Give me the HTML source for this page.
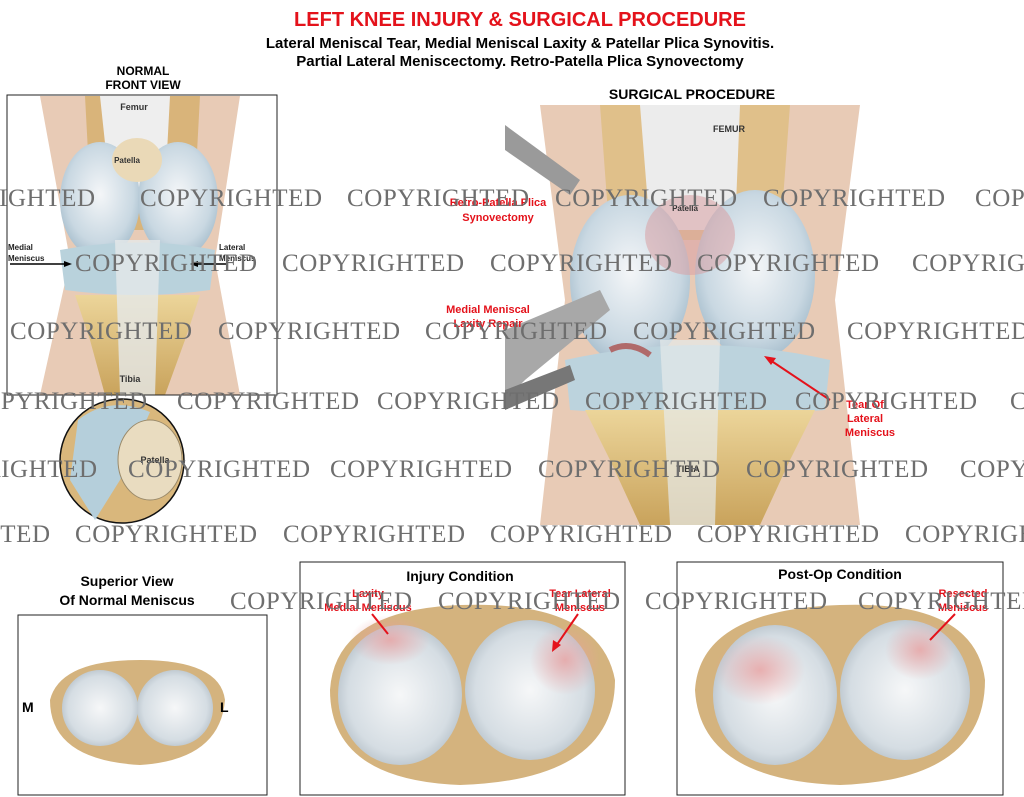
<!DOCTYPE html>
<html><head><meta charset="utf-8"><style>
html,body{margin:0;padding:0;background:#fff;}
svg{display:block}
.t{font-family:"Liberation Sans",Arial,sans-serif;font-weight:bold}
.w{font-family:"Liberation Serif",serif;fill:#6e6e6e;font-size:25px}
</style></head><body>
<svg width="1024" height="797" viewBox="0 0 1024 797" xmlns="http://www.w3.org/2000/svg">
<defs>
<radialGradient id="cart" cx="50%" cy="45%" r="60%"><stop offset="0" stop-color="#f4f6f8"/><stop offset="0.7" stop-color="#c9d8e2"/><stop offset="1" stop-color="#9fb8c8"/></radialGradient>
<linearGradient id="bone" x1="0" y1="0" x2="0" y2="1"><stop offset="0" stop-color="#ecd59a"/><stop offset="1" stop-color="#c9a35c"/></linearGradient>
<radialGradient id="men" cx="50%" cy="50%" r="60%"><stop offset="0" stop-color="#f6f7f8"/><stop offset="0.7" stop-color="#d5dde3"/><stop offset="1" stop-color="#a8b4bd"/></radialGradient>
<radialGradient id="red" cx="50%" cy="50%" r="50%"><stop offset="0" stop-color="#e8a0a0" stop-opacity=".8"/><stop offset="1" stop-color="#e8a0a0" stop-opacity="0"/></radialGradient>
</defs>

<!-- titles -->
<text class="t" x="520" y="26" text-anchor="middle" font-size="20" fill="#e4121b">LEFT KNEE INJURY &amp; SURGICAL PROCEDURE</text>
<text class="t" x="520" y="48" text-anchor="middle" font-size="15">Lateral Meniscal Tear, Medial Meniscal Laxity &amp; Patellar Plica Synovitis.</text>
<text class="t" x="520" y="66" text-anchor="middle" font-size="15">Partial Lateral Meniscectomy.  Retro-Patella Plica Synovectomy</text>
<text class="t" x="143" y="75" text-anchor="middle" font-size="12">NORMAL</text>
<text class="t" x="143" y="89" text-anchor="middle" font-size="12">FRONT VIEW</text>
<text class="t" x="692" y="99" text-anchor="middle" font-size="14">SURGICAL PROCEDURE</text>

<!-- left front view -->
<g>
<path d="M40 96 L240 96 L215 260 L240 395 L40 395 L70 260 Z" fill="#e8cbb6"/>
<path d="M85 96 L200 96 L195 190 L170 230 L110 230 L90 190 Z" fill="#d9b47a"/>
<path d="M100 96 L170 96 L165 190 L110 190 Z" fill="#eeeeee"/>
<ellipse cx="100" cy="200" rx="40" ry="58" fill="url(#cart)"/>
<ellipse cx="178" cy="200" rx="40" ry="58" fill="url(#cart)"/>
<ellipse cx="137" cy="160" rx="25" ry="22" fill="#ead9b7"/>
<path d="M60 250 Q140 235 215 250 L210 290 Q140 300 65 290 Z" fill="#b9d2dc"/>
<path d="M75 295 L200 295 L185 340 L165 395 L105 395 L90 340 Z" fill="url(#bone)"/>
<path d="M115 240 L160 240 L155 395 L120 395 Z" fill="#e5e9ea" opacity=".8"/>
<rect x="7" y="95" width="270" height="300" fill="none" stroke="#222" stroke-width="1"/>
<text class="t" x="134" y="110" text-anchor="middle" font-size="9" fill="#333">Femur</text>
<text class="t" x="127" y="163" text-anchor="middle" font-size="8" fill="#333">Patella</text>
<text class="t" x="8" y="250" font-size="8" fill="#222">Medial</text>
<text class="t" x="8" y="261" font-size="8" fill="#222">Meniscus</text>
<text class="t" x="219" y="250" font-size="8" fill="#222">Lateral</text>
<text class="t" x="219" y="261" font-size="8" fill="#222">Meniscus</text>
<line x1="10" y1="264" x2="68" y2="264" stroke="#000" stroke-width="1.5"/><path d="M72 264 L64 261 L64 267Z"/>
<line x1="228" y1="264" x2="195" y2="264" stroke="#000" stroke-width="1.5"/><path d="M190 264 L198 261 L198 267Z"/>
<text class="t" x="130" y="382" text-anchor="middle" font-size="9" fill="#333">Tibia</text>
</g>

<!-- circle -->
<circle cx="122" cy="461" r="62" fill="#d9b77c" stroke="#111" stroke-width="1.5"/>
<path d="M78 420 Q110 395 150 412 L120 480 L95 520 L70 480 Z" fill="#b5cfdb"/>
<ellipse cx="150" cy="460" rx="32" ry="40" fill="#e9dcc0" stroke="#9a8a6a"/>
<text class="t" x="155" y="463" text-anchor="middle" font-size="9" fill="#333">Patella</text>

<!-- surgical procedure -->
<g>
<path d="M540 105 L860 105 L835 300 L860 525 L540 525 L565 300 Z" fill="#e8cbb6"/>
<path d="M600 105 L790 105 L780 240 L610 240 Z" fill="#e0c08a"/>
<path d="M640 105 L740 105 L735 230 L650 230 Z" fill="#ececec"/>
<ellipse cx="630" cy="280" rx="60" ry="85" fill="url(#cart)"/>
<ellipse cx="755" cy="275" rx="60" ry="85" fill="url(#cart)"/>
<ellipse cx="690" cy="235" rx="45" ry="40" fill="#d9a0a4" opacity=".55"/>
<path d="M565 360 Q700 330 830 360 L825 410 Q700 420 570 410 Z" fill="#bcd3dd"/>
<path d="M585 410 L815 410 L790 460 L760 525 L640 525 L610 460 Z" fill="url(#bone)"/>
<path d="M660 340 L720 340 L715 525 L670 525 Z" fill="#e5e9ea" opacity=".7"/>
<!-- instruments -->
<path d="M505 125 L580 180 L570 195 L505 150 Z" fill="#9a9a9a"/>
<path d="M505 330 L600 290 L610 310 L525 380 L505 400 Z" fill="#a8a8a8"/>
<path d="M505 390 L570 365 L575 380 L505 410 Z" fill="#777"/>
<path d="M610 350 Q630 340 650 355" stroke="#b06a6a" stroke-width="6" fill="none"/>
<text class="t" x="729" y="132" text-anchor="middle" font-size="9" fill="#333">FEMUR</text>
<text class="t" x="685" y="211" text-anchor="middle" font-size="8" fill="#333">Patella</text>
<text class="t" x="688" y="472" text-anchor="middle" font-size="9" fill="#333">TIBIA</text>
<text class="t" x="498" y="206" text-anchor="middle" font-size="11" fill="#e4121b">Retro-Patella Plica</text>
<text class="t" x="498" y="221" text-anchor="middle" font-size="11" fill="#e4121b">Synovectomy</text>
<text class="t" x="488" y="313" text-anchor="middle" font-size="11" fill="#e4121b">Medial Meniscal</text>
<text class="t" x="488" y="327" text-anchor="middle" font-size="11" fill="#e4121b">Laxity Repair</text>
<text class="t" x="865" y="408" text-anchor="middle" font-size="11" fill="#e4121b">Tear Of</text>
<text class="t" x="865" y="422" text-anchor="middle" font-size="11" fill="#e4121b">Lateral</text>
<text class="t" x="870" y="436" text-anchor="middle" font-size="11" fill="#e4121b">Meniscus</text>
<line x1="830" y1="400" x2="770" y2="360" stroke="#e4121b" stroke-width="2"/><path d="M764 356 L776 358 L771 365Z" fill="#e4121b"/>
</g>

<!-- bottom panels -->
<text class="t" x="127" y="586" text-anchor="middle" font-size="14">Superior View</text>
<text class="t" x="127" y="605" text-anchor="middle" font-size="14">Of Normal Meniscus</text>
<rect x="18" y="615" width="249" height="180" fill="none" stroke="#222"/>
<path d="M50 700 Q60 660 140 660 Q220 660 225 700 Q220 760 140 765 Q50 760 50 700Z" fill="#d4b37e"/>
<ellipse cx="100" cy="708" rx="38" ry="38" fill="url(#men)"/>
<ellipse cx="175" cy="708" rx="38" ry="38" fill="url(#men)"/>
<text class="t" x="22" y="712" font-size="14">M</text>
<text class="t" x="220" y="712" font-size="14">L</text>

<text class="t" x="460" y="581" text-anchor="middle" font-size="14">Injury Condition</text>
<rect x="300" y="562" width="325" height="233" fill="none" stroke="#222"/>
<path d="M330 690 Q335 610 460 605 Q600 600 615 680 Q615 780 460 785 Q330 780 330 690Z" fill="#d4b37e"/>
<ellipse cx="400" cy="695" rx="62" ry="70" fill="url(#men)"/>
<ellipse cx="530" cy="690" rx="65" ry="70" fill="url(#men)"/>
<ellipse cx="390" cy="640" rx="40" ry="25" fill="url(#red)"/>
<ellipse cx="565" cy="660" rx="35" ry="35" fill="url(#red)"/>
<text class="t" x="368" y="597" text-anchor="middle" font-size="11" fill="#e4121b">Laxity</text>
<text class="t" x="368" y="611" text-anchor="middle" font-size="11" fill="#e4121b">Medial Meniscus</text>
<text class="t" x="580" y="597" text-anchor="middle" font-size="11" fill="#e4121b">Tear Lateral</text>
<text class="t" x="580" y="611" text-anchor="middle" font-size="11" fill="#e4121b">Meniscus</text>
<line x1="372" y1="614" x2="388" y2="634" stroke="#e4121b" stroke-width="2"/>
<line x1="578" y1="614" x2="556" y2="646" stroke="#e4121b" stroke-width="2"/><path d="M552 652 L553 640 L561 645Z" fill="#e4121b"/>

<text class="t" x="840" y="579" text-anchor="middle" font-size="14">Post-Op Condition</text>
<rect x="677" y="562" width="326" height="233" fill="none" stroke="#222"/>
<path d="M695 690 Q700 610 840 605 Q975 600 985 680 Q985 780 840 785 Q700 780 695 690Z" fill="#d4b37e"/>
<ellipse cx="775" cy="695" rx="62" ry="70" fill="url(#men)"/>
<ellipse cx="905" cy="690" rx="65" ry="70" fill="url(#men)"/>
<ellipse cx="760" cy="670" rx="45" ry="35" fill="url(#red)"/>
<ellipse cx="920" cy="650" rx="35" ry="30" fill="url(#red)"/>
<text class="t" x="963" y="597" text-anchor="middle" font-size="11" fill="#e4121b">Resected</text>
<text class="t" x="963" y="611" text-anchor="middle" font-size="11" fill="#e4121b">Meniscus</text>
<line x1="955" y1="614" x2="930" y2="640" stroke="#e4121b" stroke-width="2"/>

<!-- watermarks -->
<g class="w">
<text x="-87" y="206" textLength="182">COPYRIGHTED</text><text x="140" y="206" textLength="182">COPYRIGHTED</text><text x="347" y="206" textLength="182">COPYRIGHTED</text><text x="555" y="206" textLength="182">COPYRIGHTED</text><text x="763" y="206" textLength="182">COPYRIGHTED</text><text x="975" y="206" textLength="182">COPYRIGHTED</text>
<text x="75" y="271" textLength="182">COPYRIGHTED</text><text x="282" y="271" textLength="182">COPYRIGHTED</text><text x="490" y="271" textLength="182">COPYRIGHTED</text><text x="697" y="271" textLength="182">COPYRIGHTED</text><text x="912" y="271" textLength="182">COPYRIGHTED</text>
<text x="10" y="339" textLength="182">COPYRIGHTED</text><text x="218" y="339" textLength="182">COPYRIGHTED</text><text x="425" y="339" textLength="182">COPYRIGHTED</text><text x="633" y="339" textLength="182">COPYRIGHTED</text><text x="847" y="339" textLength="182">COPYRIGHTED</text>
<text x="-35" y="409" textLength="182">COPYRIGHTED</text><text x="177" y="409" textLength="182">COPYRIGHTED</text><text x="377" y="409" textLength="182">COPYRIGHTED</text><text x="585" y="409" textLength="182">COPYRIGHTED</text><text x="795" y="409" textLength="182">COPYRIGHTED</text><text x="1010" y="409" textLength="182">COPYRIGHTED</text>
<text x="-85" y="477" textLength="182">COPYRIGHTED</text><text x="128" y="477" textLength="182">COPYRIGHTED</text><text x="330" y="477" textLength="182">COPYRIGHTED</text><text x="538" y="477" textLength="182">COPYRIGHTED</text><text x="746" y="477" textLength="182">COPYRIGHTED</text><text x="960" y="477" textLength="182">COPYRIGHTED</text>
<text x="-132" y="542" textLength="182">COPYRIGHTED</text><text x="75" y="542" textLength="182">COPYRIGHTED</text><text x="283" y="542" textLength="182">COPYRIGHTED</text><text x="490" y="542" textLength="182">COPYRIGHTED</text><text x="697" y="542" textLength="182">COPYRIGHTED</text><text x="905" y="542" textLength="182">COPYRIGHTED</text>
<text x="230" y="609" textLength="182">COPYRIGHTED</text><text x="438" y="609" textLength="182">COPYRIGHTED</text><text x="645" y="609" textLength="182">COPYRIGHTED</text><text x="858" y="609" textLength="182">COPYRIGHTED</text>
</g>
</svg>
</body></html>
